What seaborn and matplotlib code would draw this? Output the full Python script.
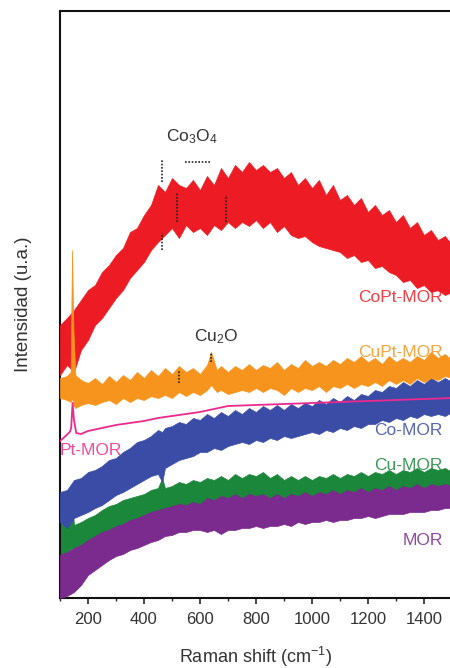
import matplotlib
matplotlib.use("Agg")
import matplotlib.pyplot as plt
import matplotlib.ticker as mticker
import pandas as pd
import seaborn as sns

# Raman spectra (arbitrary intensity units)
# noisy spectra are kept as upper / lower envelopes of the noise band
grid = list(range(100, 1501, 25))

copt_x = grid
copt_hi = [275, 282, 290, 300, 310, 315, 328, 335, 345, 352, 368, 372, 385, 395, 415, 408, 422, 415, 412, 420,
           410, 424, 415, 432, 422, 435, 428, 438, 430, 435, 428, 432, 422, 428, 415, 422, 412, 420, 405, 415,
           400, 405, 395, 402, 388, 395, 385, 390, 378, 385, 372, 378, 365, 370, 360, 364, 355]
copt_lo = [225, 235, 228, 250, 260, 275, 282, 292, 302, 310, 322, 330, 338, 350, 358, 365, 372, 362, 375, 368,
           372, 365, 375, 370, 378, 372, 378, 374, 380, 372, 378, 368, 374, 365, 362, 364, 358, 354, 352, 350,
           348, 342, 345, 338, 340, 332, 334, 328, 325, 318, 320, 312, 315, 308, 310, 305, 308]

cupt_x = [100, 125, 138, 143, 148, 155] + list(range(175, 626, 25)) + [640, 660] + list(range(675, 1501, 25))
cupt_hi = [222, 224, 228, 350, 270, 225, 220, 217, 222, 216, 224, 218, 225, 220, 228, 222, 230, 224, 232, 226,
           234, 228, 232, 226, 235, 248, 230, 234, 228,
           234, 230, 236, 230, 235, 232, 238, 230, 236, 232, 240, 234, 238, 234, 240, 236, 242, 238, 244, 238,
           242, 236, 244, 238, 242, 238, 244, 240, 248, 242, 246, 240]
cupt_lo = [202, 200, 198, 202, 195, 192, 195, 197, 195, 198, 200, 196, 202, 198, 202, 200, 204, 202, 205, 202,
           208, 204, 208, 205, 210, 215, 208, 210, 206,
           208, 210, 208, 212, 208, 212, 210, 205, 212, 208, 212, 210, 214, 208, 214, 212, 216, 212, 216, 214,
           218, 214, 220, 216, 220, 216, 222, 218, 222, 220, 224, 222]

pt_x = [100, 120, 135, 140, 145, 150, 158, 175, 200, 250, 300, 350, 400, 450, 500, 550, 600, 650, 700,
        800, 900, 1000, 1100, 1200, 1300, 1400, 1500]
pt_y = [159, 164, 168, 172, 197, 180, 167, 166, 169, 172, 175, 177, 179, 182, 184, 186, 188, 191, 194,
        195, 196, 197, 198, 199, 200, 201, 202]

co_x = list(range(100, 451, 25)) + [465] + list(range(475, 1501, 25))
co_hi = [108, 110, 120, 122, 128, 130, 134, 140, 142, 148, 152, 158, 160, 164, 170, 168,
         172, 174, 178, 176, 182, 180, 186, 182, 188, 184, 190, 186, 192, 188, 194, 190, 195, 190, 196, 192,
         197, 194, 200, 196, 202, 198, 204, 200, 206, 204, 210, 208, 214, 212, 218, 214, 220, 216, 222, 218,
         222, 218]
co_lo = [78, 72, 82, 85, 88, 92, 95, 100, 105, 108, 112, 116, 120, 124, 126, 118,
         132, 136, 140, 142, 144, 148, 148, 152, 150, 154, 156, 158, 156, 160, 158, 162, 160, 164, 162, 164,
         166, 168, 166, 170, 168, 172, 170, 174, 172, 176, 176, 180, 178, 182, 180, 184, 182, 186, 184, 186,
         184, 188]

cu_x = [100, 125, 145] + list(range(150, 451, 25)) + [465] + list(range(475, 1501, 25))
cu_hi = [82, 78, 92, 75, 78, 82, 85, 90, 94, 96, 100, 102, 104, 106, 110, 112, 122,
         112, 114, 118, 116, 120, 118, 122, 120, 124, 120, 126, 122, 126, 124, 128, 122, 126, 120, 124, 120,
         124, 120, 124, 122, 126, 122, 126, 124, 128, 124, 128, 126, 130, 126, 130, 128, 132, 128, 132, 130,
         132, 128]
cu_lo = [44, 48, 52, 50, 52, 55, 60, 62, 65, 68, 70, 74, 76, 80, 82, 85, 88,
         88, 90, 92, 94, 95, 96, 98, 100, 98, 100, 102, 100, 104, 102, 104, 102, 100, 102, 100, 102,
         100, 102, 100, 104, 102, 104, 102, 106, 104, 106, 104, 108, 106, 108, 106, 108, 106, 110, 108, 110,
         108, 110]

mor_x = grid
mor_hi = [45, 48, 52, 55, 60, 64, 68, 70, 74, 76, 80, 82, 85, 88, 90, 92, 94, 96, 95, 98,
          96, 102, 100, 104, 102, 106, 102, 106, 104, 106, 102, 106, 102, 106, 104, 108, 104, 108, 106, 110,
          106, 110, 108, 112, 108, 112, 110, 114, 110, 114, 112, 116, 112, 116, 114, 116, 114]
mor_lo = [2, 4, 8, 15, 25, 30, 35, 40, 44, 46, 50, 52, 55, 58, 60, 64, 65, 68, 68, 70,
          70, 68, 70, 66, 70, 70, 72, 72, 74, 72, 74, 74, 76, 74, 78, 76, 78, 78, 80, 78,
          80, 80, 82, 82, 84, 82, 84, 86, 86, 86, 88, 88, 88, 90, 90, 92, 92]

# peak markers (Raman shift, y from, y to)
co3o4_marks = [(464, 418, 441), (464, 350, 367), (519, 378, 408), (693, 378, 405)]
cu2o_marks = [(639, 238, 248), (525, 217, 230)]

colors = {"CoPt-MOR": "#ED1C24", "CuPt-MOR": "#F7941D", "Pt-MOR": "#EC2A8E",
          "Co-MOR": "#3A4CA6", "Cu-MOR": "#1B873A", "MOR": "#7B2A8E"}

bands = [("Cu-MOR", cu_x, cu_hi, cu_lo), ("MOR", mor_x, mor_hi, mor_lo),
         ("Co-MOR", co_x, co_hi, co_lo), ("CoPt-MOR", copt_x, copt_hi, copt_lo),
         ("CuPt-MOR", cupt_x, cupt_hi, cupt_lo)]

sns.set_theme(style="white")
plt.rcParams["font.family"] = ["Liberation Sans", "DejaVu Sans"]
plt.rcParams["mathtext.default"] = "regular"

fig = plt.figure(figsize=(4.5, 6.68), dpi=100)
ax = fig.add_axes([0.1333, 0.1048, 0.871, 0.8787])

for i, (name, xs, hi, lo) in enumerate(bands):
    df = pd.DataFrame({"shift": xs + xs, "intensity": hi + lo})
    sns.lineplot(data=df, x="shift", y="intensity", ax=ax, color=colors[name],
                 estimator="mean", errorbar=("pi", 100), linewidth=0,
                 err_kws={"alpha": 1, "linewidth": 0.5, "edgecolor": colors[name], "zorder": 2 + i},
                 zorder=2 + i)

sns.lineplot(x=pt_x, y=pt_y, ax=ax, color=colors["Pt-MOR"], linewidth=1.3, zorder=10)

for x, y0, y1 in co3o4_marks + cu2o_marks:
    ax.vlines(x, y0, y1, colors="#222222", linestyles=(0, (1, 1)), linewidth=1.2, zorder=12)
ax.hlines(438, 546, 639, colors="#222222", linestyles=(0, (1, 1)), linewidth=1.2, zorder=12)
ax.text(571, 463, "Co$_3$O$_4$", ha="center", va="center", fontsize=12.5, color="#333333")
ax.text(657, 263, "Cu$_2$O", ha="center", va="center", fontsize=12.5, color="#333333")

# sample labels
label_pos = {"CoPt-MOR": (1468, 303), "CuPt-MOR": (1468, 248), "Co-MOR": (1468, 170),
             "Cu-MOR": (1468, 135), "MOR": (1468, 59)}
for name, (x, y) in label_pos.items():
    ax.text(x, y, name, ha="right", va="center", fontsize=12.5, color=colors[name], alpha=0.85, zorder=15)
ax.text(97, 150, "Pt-MOR", ha="left", va="center", fontsize=12.5, color=colors["Pt-MOR"], alpha=0.85, zorder=15)

ax.set_xlim(100, 1500)
ax.set_ylim(2, 589)
ax.xaxis.set_major_locator(mticker.MultipleLocator(200))
ax.xaxis.set_minor_locator(mticker.MultipleLocator(100))
ax.set_yticks([])
ax.tick_params(axis="x", which="major", direction="out", length=4, width=1.2, labelsize=12,
               labelcolor="#333333", bottom=True, pad=6)
ax.tick_params(axis="x", which="minor", direction="out", length=2.5, width=1.0, bottom=True)
ax.set_xlabel("Raman shift (cm$^{-1}$)", fontsize=13, color="#333333", labelpad=13)
ax.set_ylabel("Intensidad (u.a.)", fontsize=13.5, color="#333333", labelpad=20)
for side in ["left", "top", "bottom", "right"]:
    ax.spines[side].set_color("#111111")
    ax.spines[side].set_linewidth(1.5)

fig.savefig("out.png", dpi=100)
